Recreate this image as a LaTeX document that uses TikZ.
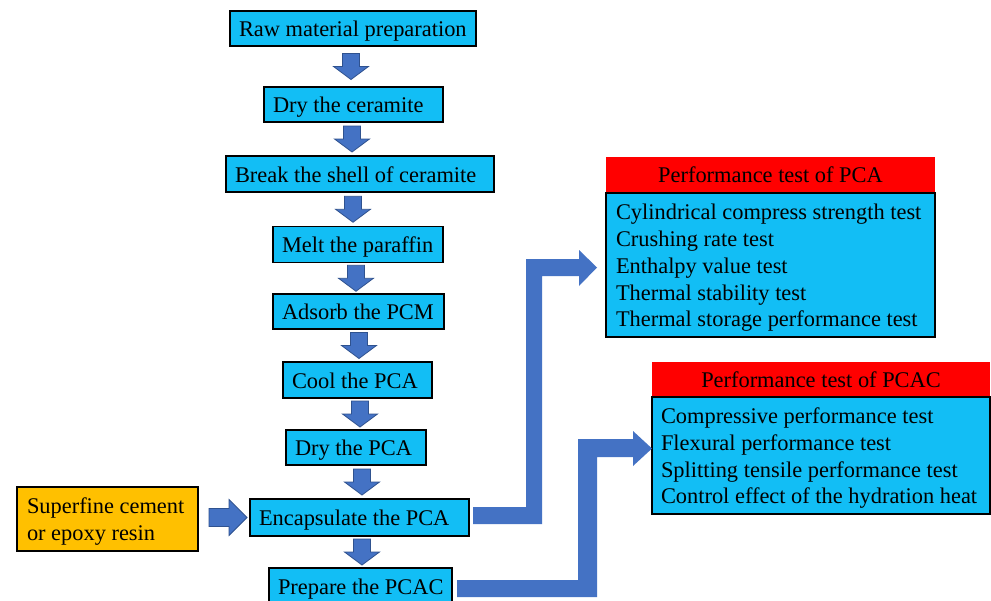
\documentclass[tikz,border=0pt]{standalone}
\usepackage{fontspec}
\setmainfont{Liberation Serif}
\usetikzlibrary{calc}
\definecolor{boxblue}{RGB}{18,190,245}
\definecolor{arrowblue}{RGB}{68,114,196}
\definecolor{arrowedge}{RGB}{47,82,143}
\definecolor{orangebox}{RGB}{255,192,0}
\newcommand{\lefttext}[2]{\raisebox{0pt}[\dimexpr\height+6pt\relax][\depth]{\makebox[#1][l]{\begin{tabular}{@{}l@{}}#2\end{tabular}}}}
\begin{document}
\begin{tikzpicture}[x=1pt,y=-1pt,
  flowbox/.style={draw=black, fill=boxblue, line width=1.2pt, inner xsep=0pt, inner ysep=0pt,
    font=\fontsize{22.4}{26.75}\selectfont},
  headbox/.style={fill=red, inner sep=0pt, font=\fontsize{22.4}{26.75}\selectfont},
  orangenode/.style={draw=black, fill=orangebox, line width=1.2pt, inner xsep=0pt, inner ysep=0pt,
    font=\fontsize{22.4}{27}\selectfont},
  arrowshape/.style={fill=arrowblue, draw=arrowedge, line width=0.8pt, line join=miter},
  elbowshape/.style={fill=arrowblue, draw=none},
  pics/downarr/.style={code={\draw[arrowshape] (-8.5,-13) -- (8.5,-13) -- (8.5,0) -- (17.5,0) -- (0,13) -- (-17.5,0) -- (-8.5,0) -- cycle;}},
  pics/rightarr/.style={code={\draw[arrowshape] (-19,-9) -- (1,-9) -- (1,-18) -- (19,0) -- (1,18) -- (1,9) -- (-19,9) -- cycle;}}
]
\clip (0,0) rectangle (991,600);
\fill[white] (0,0) rectangle (991,600);

% main flow boxes
\node[flowbox, minimum width=246pt, minimum height=35pt] (raw) at (353,28.5) {\hspace*{9pt}\lefttext{237pt}{Raw material preparation}};
\node[flowbox, minimum width=179pt, minimum height=35pt] (dry) at (353.5,104.5) {\hspace*{9pt}\lefttext{170pt}{Dry the ceramite}};
\node[flowbox, minimum width=268pt, minimum height=36pt] (break) at (360,174) {\hspace*{9pt}\lefttext{259pt}{Break the shell of ceramite}};
\node[flowbox, minimum width=170pt, minimum height=36pt] (melt) at (358,244.5) {\hspace*{9pt}\lefttext{161pt}{Melt the paraffin}};
\node[flowbox, minimum width=171pt, minimum height=35pt] (adsorb) at (358.5,311.5) {\hspace*{9pt}\lefttext{162pt}{Adsorb the PCM}};
\node[flowbox, minimum width=149pt, minimum height=36pt] (cool) at (357.5,380) {\hspace*{9pt}\lefttext{140pt}{Cool the PCA}};
\node[flowbox, minimum width=140pt, minimum height=35pt] (drypca) at (356,447.5) {\hspace*{9pt}\lefttext{131pt}{Dry the PCA}};
\node[flowbox, minimum width=219pt, minimum height=37pt] (encap) at (359.5,517.5) {\hspace*{9pt}\lefttext{210pt}{Encapsulate the PCA}};
\node[flowbox, minimum width=183pt, minimum height=36pt] (prep) at (360.5,586) {\hspace*{9pt}\lefttext{174pt}{Prepare the PCAC}};

% side input
\node[orangenode, minimum width=181pt, minimum height=64pt] (cement) at (107.5,519) {\hspace*{10pt}\lefttext{171pt}{Superfine cement\\or epoxy resin}};

% test boxes
\node[headbox, minimum width=329pt, minimum height=36pt] (pcahead) at (770.5,175) {Performance test of PCA};
\node[flowbox, minimum width=329pt, minimum height=144pt] (pcabody) at (770.5,265) {\hspace*{10pt}\lefttext{319pt}{Cylindrical compress strength test\\Crushing rate test\\Enthalpy value test\\Thermal stability test\\Thermal storage performance test}};
\node[headbox, minimum width=338pt, minimum height=35pt] (pcachead) at (821,379.5) {Performance test of PCAC};
\node[flowbox, minimum width=338pt, minimum height=117pt] (pcacbody) at (821,455.5) {\hspace*{9pt}\lefttext{329pt}{Compressive performance test\\Flexural performance test\\Splitting tensile performance test\\Control effect of the hydration heat}};

% down arrows between steps
\path (raw.south) -- (dry.north) coordinate[midway] (m1);
\path (dry.south) -- (break.north) coordinate[midway] (m2);
\path (break.south) -- (melt.north) coordinate[midway] (m3);
\path (melt.south) -- (adsorb.north) coordinate[midway] (m4);
\path (adsorb.south) -- (cool.north) coordinate[midway] (m5);
\path (cool.south) -- (drypca.north) coordinate[midway] (m6);
\path (drypca.south) -- (encap.north) coordinate[midway] (m7);
\path (encap.south) -- (prep.north) coordinate[midway] (m8);
\pic at (351,0 |- m1) {downarr};
\pic at (352,0 |- m2) {downarr};
\pic at (353,0 |- m3) {downarr};
\pic at (356,0 |- m4) {downarr};
\pic at (359,0 |- m5) {downarr};
\pic at (360,0 |- m6) {downarr};
\pic at (362,0 |- m7) {downarr};
\pic at (362,0 |- m8) {downarr};

% input arrow
\pic at (228,0 |- encap.center) {rightarr};

% elbow arrows to the test boxes
\fill[elbowshape] (473,507) -- (526,507) -- (526,259) -- (579,259) -- (579,250) -- (597,267.5) -- (579,286) -- (579,276) -- (542,276) -- (542,524) -- (473,524) -- cycle;
\fill[elbowshape] (457,580) -- (578,580) -- (578,439) -- (633,439) -- (633,431) -- (652,448.5) -- (633,466) -- (633,457) -- (597,457) -- (597,597) -- (457,597) -- cycle;
\end{tikzpicture}
\end{document}
